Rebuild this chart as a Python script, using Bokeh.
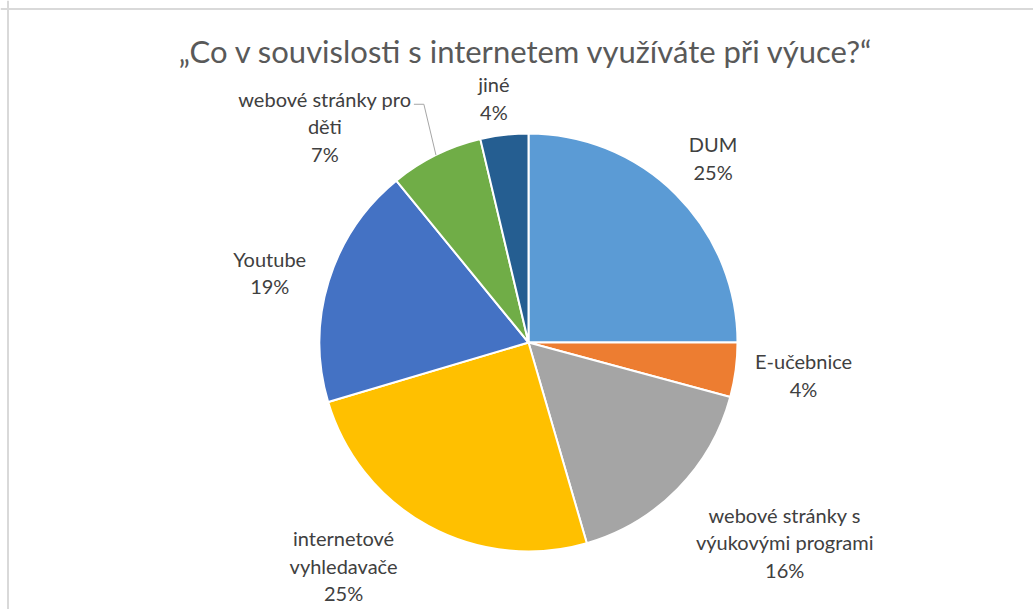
import math
from bokeh.plotting import figure
from bokeh.models import Range1d, ColumnDataSource, Label, Span
from bokeh.core.properties import value
from bokeh.embed import file_html
from bokeh.resources import INLINE

# ---- data ----
categories = ["DUM", "E-učebnice", "webové stránky s\nvýukovými programi",
              "internetové\nvyhledavače", "Youtube", "webové stránky pro\nděti", "jiné"]
shares = [25.0, 4.2, 16.3, 24.9, 18.7, 7.2, 3.7]
colors = ["#5B9BD5", "#ED7D31", "#A5A5A5", "#FFC000", "#4472C4", "#70AD47", "#255E91"]
title_text = "„Co v souvislosti s internetem využíváte při výuce?“"

# ---- layout ----
W, H = 1033, 609


def Y(page_y):
    return H - page_y


CX, CY = 528, Y(342)
R = 209
label_dist = [261, 277, 325, 290, 268, 297, 247]
label_nudge_deg = [0, -0.8, -6.5, 11.0, -2, -17, -1.4]
FONT = "Lato"

p = figure(width=W, height=H, output_backend="svg", toolbar_location=None,
           x_range=Range1d(0, W), y_range=Range1d(0, H),
           min_border=0, border_fill_color="white", background_fill_color="white",
           outline_line_color=None)
p.axis.visible = False
p.grid.visible = False

# chart-area border (left and top edges)
p.add_layout(Span(location=7.5, dimension="height", line_color="#D9D9D9", line_width=2))
p.add_layout(Span(location=Y(8.5), dimension="width", line_color="#D9D9D9", line_width=2))

total = sum(shares)
starts, ends, mids = [], [], []
cum = 0.0
for v in shares:
    a0 = cum / total * 2 * math.pi
    cum += v
    a1 = cum / total * 2 * math.pi
    starts.append(math.pi / 2 - a0)
    ends.append(math.pi / 2 - a1)
    mids.append((a0 + a1) / 2)  # clockwise from top

src = ColumnDataSource(dict(start=starts, end=ends, color=colors))
p.wedge(x=CX, y=CY, radius=R, radius_units="screen", start_angle="start", end_angle="end",
        direction="clock", fill_color="color", line_color="white", line_width=2, source=src)

lx, ly, texts = [], [], []
for i, (c, v) in enumerate(zip(categories, shares)):
    ang = mids[i] + math.radians(label_nudge_deg[i])
    lx.append(CX + label_dist[i] * math.sin(ang))
    ly.append(CY + label_dist[i] * math.cos(ang))
    texts.append(f"{c}\n{round(v / total * 100)}%")

p.text(x=lx, y=ly, text=texts, text_align="center", text_baseline="middle",
       text_font=value(FONT), text_font_size="20px", text_color="#404040", text_line_height=1.15)

# leader line for the small green slice
k = 5
ex = CX + R * math.sin(mids[k])
ey = CY + R * math.cos(mids[k])
p.line(x=[lx[k] + 89, lx[k] + 99, ex], y=[ly[k] + 22, ly[k] + 22, ey], line_color="#A6A6A6", line_width=1)

p.add_layout(Label(x=526, y=Y(50), text=title_text, text_align="center", text_baseline="middle",
                   text_font=FONT, text_font_size="31px", text_color="#595959"))

open("out.html", "w").write(file_html(p, INLINE))
